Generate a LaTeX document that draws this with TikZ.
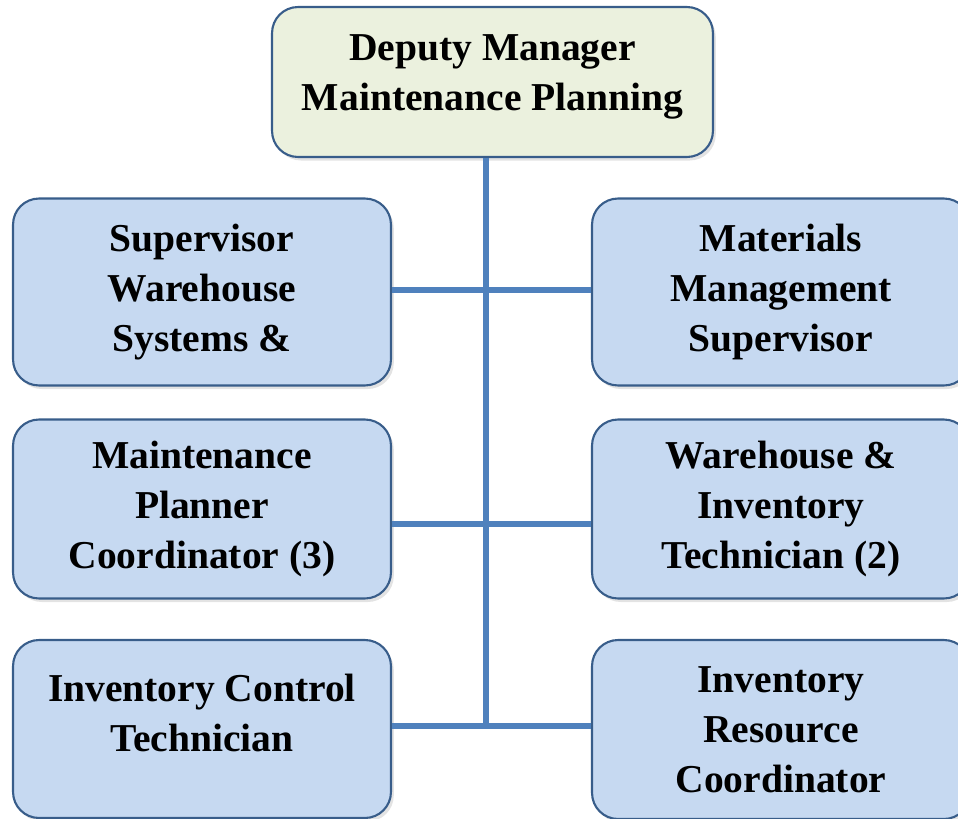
\documentclass[tikz,border=0pt]{standalone}
\usepackage{fontspec}
\setmainfont{Liberation Serif}
\usetikzlibrary{shadows}
\definecolor{postblue}{HTML}{C6D9F1}
\definecolor{postgreen}{HTML}{EBF1DE}
\definecolor{postline}{HTML}{385D8A}
\definecolor{linkblue}{HTML}{4F81BD}

\begin{document}
\begin{tikzpicture}[x=0.02cm, y=-0.02cm]
\tikzset{
  posttext/.style={align=center, font=\bfseries\fontsize{22.5}{28.45}\selectfont},
  post/.style={posttext, draw=postline, line width=1.2pt, fill=postblue, rounded corners=0.52cm, minimum width=7.56cm, inner sep=0pt,
    drop shadow={shadow xshift=1.6pt, shadow yshift=-2pt, opacity=0.22}},
  link/.style={draw=linkblue, line width=3.4pt},
}
\useasboundingbox (0,0) rectangle (958,819);
\clip (0,0) rectangle (958,819);

\node[post, fill=postgreen, minimum width=8.82cm, minimum height=3cm,
  label={[posttext, yshift=2.8pt]center:{Deputy Manager\\ Maintenance Planning}}] (dm) at (492.5,82) {};

\node[post, minimum height=3.74cm] (l1) at (202,292) {Supervisor\\ Warehouse\\ Systems \&};
\node[post, minimum height=3.74cm] (r1) at (781,292) {Materials\\ Management\\ Supervisor};
\node[post, minimum height=3.58cm] (l2) at (202,509) {Maintenance\\ Planner\\ Coordinator (3)};
\node[post, minimum height=3.58cm] (r2) at (781,509) {Warehouse \&\\ Inventory\\ Technician (2)};
\node[post, minimum height=3.56cm,
  label={[posttext, yshift=9pt]center:{Inventory Control\\ Technician}}] (l3) at (202,729) {};
\node[post, minimum height=3.58cm] (r3) at (781,729.5) {Inventory\\ Resource\\ Coordinator};

\coordinate (j1) at (486,290);
\coordinate (j2) at (486,524);
\coordinate (j3) at (486,726);
\draw[link] (dm.south -| j1) -- (j3);
\draw[link] (l1.east |- j1) -- (r1.west |- j1);
\draw[link] (l2.east |- j2) -- (r2.west |- j2);
\draw[link] (l3.east |- j3) -- (r3.west |- j3);
\end{tikzpicture}
\end{document}
